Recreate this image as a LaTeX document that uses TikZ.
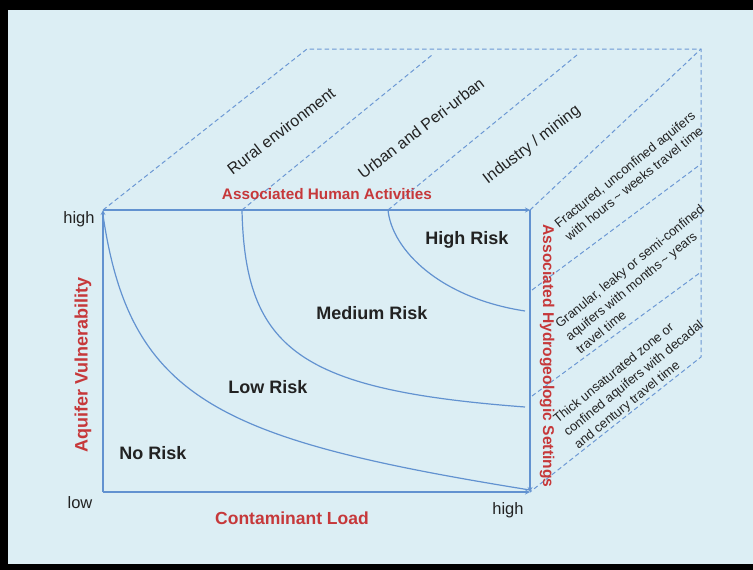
\documentclass[tikz,border=0pt]{standalone}
\usepackage{fontspec}
\setmainfont{Liberation Sans}
\usepackage{tikz}
\usetikzlibrary{arrows}
\usetikzlibrary{positioning}
\definecolor{panel}{RGB}{220,238,244}
\definecolor{axisblue}{RGB}{98,146,208}
\definecolor{gridblue}{RGB}{108,152,212}
\definecolor{labelred}{RGB}{198,56,58}
\definecolor{ink}{RGB}{34,34,34}
\tikzstyle{arrow} = [axisblue, line width=1.2pt, ->, >=stealth]
\tikzstyle{riskline} = [axisblue, line width=1.2pt]
\tikzstyle{boxedge} = [gridblue, line width=1pt, dash pattern=on 4.5pt off 3pt]
\tikzstyle{risk} = [font=\fontsize{18}{21}\selectfont\bfseries, text=ink]
\tikzstyle{axislabel} = [font=\bfseries, text=labelred]
\tikzstyle{endlabel} = [font=\fontsize{16.5}{19}\selectfont, text=ink]
\tikzstyle{activity} = [font=\fontsize{16}{19}\selectfont, text=ink, rotate=37.5]
\tikzstyle{setting} = [font=\fontsize{13}{16.5}\selectfont, text=ink, rotate=39, align=left]

\begin{document}
\begin{tikzpicture}[x=1pt, y=-1pt]
\useasboundingbox (0,0) rectangle (753,570);
\fill [black] (0,0) rectangle (753,570);
\fill [panel] (8,10) rectangle (753,564);

% front face
\coordinate (tl) at (103,210);
\coordinate (tr) at (530,210);
\coordinate (br) at (530,492);
\coordinate (bl) at (103,492);

% back edges of the box
\coordinate (btl) at (307,49);
\coordinate (btr) at (701,49);
\coordinate (bbr) at (701,357);
\coordinate (urbantop) at (432,55);
\coordinate (industrytop) at (577,55);
\coordinate (urbanfoot) at (242,210);
\coordinate (industryfoot) at (388,210);
\coordinate (split1l) at (532,290);
\coordinate (split1r) at (701,164);
\coordinate (split2l) at (532,396);
\coordinate (split2r) at (701,272);

\draw [boxedge] (tl) -- (btl) -- (btr) -- (bbr) -- (br);
\draw [boxedge] (urbanfoot) -- (urbantop);
\draw [boxedge] (industryfoot) -- (industrytop);
\draw [boxedge] (tr) -- (btr);
\draw [boxedge] (split1l) -- (split1r);
\draw [boxedge] (split2l) -- (split2r);

\draw [arrow] (bl) -- (tl);
\draw [arrow] (tl) -- (tr);
\draw [arrow] (tr) -- (br);
\draw [arrow] (bl) -- (br);

% risk boundaries
\coordinate (c1s) at (103,215);
\coordinate (c1e) at (530,490);
\coordinate (c2e) at (525,407);
\coordinate (c3e) at (525,311);
\draw [riskline] (c1s) .. controls (130,400) and (220,440) .. (c1e);
\draw [riskline] (urbanfoot) .. controls (245,350) and (300,390) .. (c2e);
\draw [riskline] (industryfoot) .. controls (392,250) and (440,298) .. (c3e);

\node (norisk) [risk] at (153,453) {No Risk};
\node (lowrisk) [risk] at (268,387) {Low Risk};
\node (medrisk) [risk] at (372,313) {Medium Risk};
\node (highrisk) [risk] at (467,240) {High Risk};

\node (vhigh) [endlabel] at (79,219) {high};
\node (vlow) [endlabel] at (80,503) {low};
\node (lhigh) [endlabel] at (508,510) {high};

\node (load) [axislabel, font=\fontsize{17.5}{20}\selectfont\bfseries] at (292,518) {Contaminant Load};
\node (vuln) [axislabel, font=\fontsize{18}{21}\selectfont\bfseries, rotate=90] at (83,365) {Aquifer Vulnerability};
\node (human) [axislabel, font=\fontsize{15.3}{18}\selectfont\bfseries] at (327,194) {Associated Human Activities};
\node (hydro) [axislabel, font=\fontsize{15.6}{18}\selectfont\bfseries, rotate=-90] at (547,356) {Associated Hydrogeologic Settings};

\node (rural) [activity] at (281,131) {Rural environment};
\node (urban) [activity] at (421,128) {Urban and Peri-urban};
\node (industry) [activity] at (532,145) {Industry / mining};

\node (fractured) [setting] at (630,176) {Fractured, unconfined aquifers\\with hours\,\textasciitilde\ weeks travel time};
\node (granular) [setting] at (640,279) {Granular, leaky or semi-confined\\aquifers with months\,\textasciitilde\ years\\travel time};
\node (thick) [setting] at (634,379) {Thick unsaturated zone or\\confined aquifers with decadal\\and century travel time};
\end{tikzpicture}
\end{document}
